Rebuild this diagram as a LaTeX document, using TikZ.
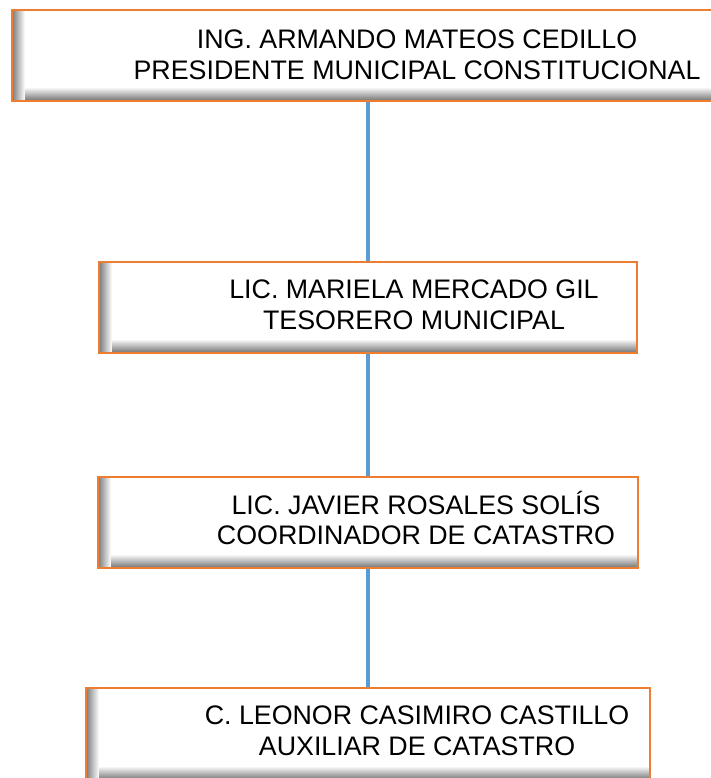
\documentclass[tikz,border=0pt]{standalone}
\usepackage{fontspec}
\setmainfont{Liberation Sans}
\definecolor{boxorange}{HTML}{ED7D31}
\definecolor{lineblue}{HTML}{5B9BD5}
\begin{document}
\begin{tikzpicture}[x=1pt,y=-1pt,
	postbox/.style={draw=boxorange, line width=2.2pt, fill=white, minimum height=91pt,
		path picture={
			% inner shadow, bottom and left edge
			\foreach \i in {0,...,12}
				\fill[black!\the\numexpr 52-4*\i\relax] ([yshift=\i pt]path picture bounding box.south west) rectangle ([yshift=\i pt+1.2pt]path picture bounding box.south east);
			\foreach \i in {0,...,12}
				\fill[black!\the\numexpr 52-4*\i\relax] ([xshift=\i pt]path picture bounding box.south west) rectangle ([xshift=\i pt+1.2pt]path picture bounding box.north west);
		}},
	title/.style={font=\fontsize{26.8}{30.5}\selectfont, align=center, inner sep=0pt},
	link/.style={draw=lineblue, line width=3.8pt}]
	\useasboundingbox (0,0) rectangle (711,778);

	\node[postbox, minimum width=708pt] (b1) at (366,55.5) {};
	\node[postbox, minimum width=538pt] (b2) at (368,307.5) {};
	\node[postbox, minimum width=540pt] (b3) at (368,522.5) {};
	\node[postbox, minimum width=564pt, minimum height=92pt] (b4) at (368,734) {};

	\node[title] (t1) at (417,55) {ING. ARMANDO MATEOS CEDILLO\\PRESIDENTE MUNICIPAL CONSTITUCIONAL};
	\node[title] (t2) at (414,305) {LIC. MARIELA MERCADO GIL\\TESORERO MUNICIPAL};
	\node[title] (t3) at (416,518) {LIC. JAVIER ROSALES SOLÍS\\COORDINADOR DE CATASTRO};
	\node[title] (t4) at (417,731) {C. LEONOR CASIMIRO CASTILLO\\AUXILIAR DE CATASTRO};

	\path[link] (b1.south -| b2.north) -- (b2.north);
	\path[link] (b2.south) -- (b3.north);
	\path[link] (b3.south) -- (b4.north);
\end{tikzpicture}
\end{document}
